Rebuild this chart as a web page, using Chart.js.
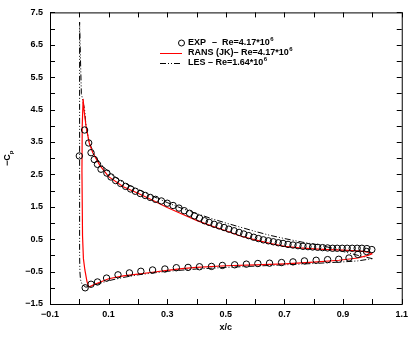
<!DOCTYPE html>
<html>
<head>
<meta charset="utf-8">
<script src="https://cdn.jsdelivr.net/npm/chart.js@4"></script>
<style>
  html, body { margin:0; padding:0; background:#fff; }
</style>
</head>
<body>
<canvas id="cp-chart" width="413" height="337"></canvas>
<script>
/* ===== DATA ===== */
const xTicks      = [-0.1, 0.1, 0.3, 0.5, 0.7, 0.9, 1.1];
const xMinorTicks = [-0.1, 0, 0.1, 0.2, 0.3, 0.4, 0.5, 0.6, 0.7, 0.8, 0.9, 1.0, 1.1];
const yTicks      = [-1.5, -0.5, 0.5, 1.5, 2.5, 3.5, 4.5, 5.5, 6.5, 7.5];
const yMinorTicks = [-1.5, -1, -0.5, 0, 0.5, 1, 1.5, 2, 2.5, 3, 3.5, 4, 4.5, 5, 5.5, 6, 6.5, 7, 7.5];

// experiment, suction side (first point is the one sitting on the leading edge)
const expUpperX  = [0.0, 0.018, 0.032, 0.04, 0.051, 0.062, 0.074, 0.094, 0.108, 0.124, 0.141, 0.158, 0.175, 0.191,
                    0.208, 0.225, 0.242, 0.26, 0.28, 0.30, 0.32, 0.34, 0.358, 0.376, 0.393, 0.41, 0.427, 0.443,
                    0.46, 0.477, 0.494, 0.51, 0.528, 0.545, 0.561, 0.578, 0.595, 0.611, 0.628, 0.645, 0.662,
                    0.679, 0.695, 0.712, 0.729, 0.746, 0.763, 0.78, 0.796, 0.813, 0.83, 0.847, 0.864, 0.88,
                    0.897, 0.914, 0.931, 0.948, 0.964, 0.981, 0.998];
const expUpperCp = [3.07, 3.87, 3.47, 3.17, 2.96, 2.81, 2.66, 2.54, 2.42, 2.31, 2.22, 2.13, 2.05, 1.98,
                    1.91, 1.85, 1.79, 1.73, 1.68, 1.61, 1.54, 1.46, 1.38, 1.30, 1.22, 1.15, 1.07, 1.02,
                    0.96, 0.91, 0.86, 0.81, 0.76, 0.71, 0.66, 0.61, 0.56, 0.52, 0.48, 0.45, 0.42,
                    0.39, 0.37, 0.34, 0.32, 0.30, 0.28, 0.27, 0.26, 0.25, 0.24, 0.23, 0.22, 0.22,
                    0.22, 0.22, 0.22, 0.22, 0.22, 0.21, 0.18];

// experiment, pressure side
const expLowerX  = [0.02, 0.04, 0.062, 0.093, 0.132, 0.171, 0.21, 0.25, 0.292, 0.331, 0.371, 0.41, 0.451, 0.488,
                    0.53, 0.57, 0.609, 0.649, 0.69, 0.729, 0.768, 0.808, 0.847, 0.885, 0.92, 0.95, 0.98];
const expLowerCp = [-1.0, -0.89, -0.82, -0.70, -0.60, -0.54, -0.49, -0.45, -0.42, -0.38, -0.37, -0.35, -0.34, -0.31,
                    -0.29, -0.27, -0.25, -0.24, -0.22, -0.20, -0.17, -0.15, -0.13, -0.12, -0.08, 0.03, 0.12];

// RANS (JK): trailing edge -> suction side -> leading edge -> pressure side -> trailing edge
const ransX  = [1.0, 0.985, 0.96, 0.93, 0.9, 0.85, 0.8, 0.75, 0.7, 0.65, 0.6, 0.55, 0.5, 0.45, 0.4, 0.35, 0.3,
                0.25, 0.2, 0.15, 0.1, 0.07, 0.046, 0.034, 0.023, 0.016, 0.013, 0.010, 0.009, 0.011, 0.014,
                0.019, 0.026, 0.031, 0.036, 0.05, 0.07, 0.1, 0.15, 0.2, 0.25, 0.3, 0.35, 0.4, 0.5, 0.6, 0.7,
                0.8, 0.886, 0.95, 0.985, 1.0];
const ransCp = [0.05, 0.10, 0.13, 0.15, 0.16, 0.18, 0.20, 0.23, 0.28, 0.37, 0.48, 0.60, 0.76, 0.91, 1.08, 1.28, 1.48,
                1.70, 1.92, 2.12, 2.43, 2.78, 3.17, 3.47, 3.98, 4.5, 4.83, 4.0, 2.6, 0.6, -0.1,
                -0.45, -0.8, -0.95, -0.97, -0.9, -0.83, -0.72, -0.63, -0.58, -0.52, -0.46, -0.41, -0.37, -0.32, -0.29, -0.26,
                -0.21, -0.15, -0.08, 0.0, 0.05];

// LES, same ordering
const lesX  = [1.0, 0.96, 0.9, 0.864, 0.82, 0.76, 0.7, 0.65, 0.6, 0.55, 0.5, 0.45, 0.4, 0.35, 0.3, 0.25, 0.2,
               0.15, 0.11, 0.08, 0.057, 0.034, 0.023, 0.018, 0.007, 0.004, 0.001, 0.001, 0.001, 0.002, 0.004,
               0.01, 0.022, 0.04, 0.07, 0.1, 0.15, 0.2, 0.3, 0.4, 0.5, 0.6, 0.7, 0.8, 0.9, 0.95, 1.0];
const lesCp = [-0.1, -0.02, 0.12, 0.22, 0.32, 0.41, 0.52, 0.62, 0.74, 0.87, 1.0, 1.14, 1.29, 1.45, 1.63, 1.83, 2.04,
               2.25, 2.5, 2.75, 3.02, 3.47, 3.98, 4.5, 5.0, 6.05, 7.2, 3.0, 0.0, -0.5, -0.75,
               -0.9, -0.98, -0.95, -0.86, -0.78, -0.68, -0.6, -0.49, -0.42, -0.37, -0.33, -0.29, -0.25, -0.2, -0.17, -0.1];

/* ===== STYLE ===== */
const TICK_FONT = { family: '"Liberation Sans", Arial, sans-serif', size: 9, weight: 'bold' };
const FONT_STR  = 'bold 9px "Liberation Sans", Arial, sans-serif';
const SUP_STR   = 'bold 6px "Liberation Sans", Arial, sans-serif';
const LES_DASH  = [6, 2, 1, 2, 1, 2];

const pts = (xs, ys) => xs.map((x, i) => ({ x, y: ys[i] }));
const fmtTick = v => Number(v).toFixed(1).replace('-', '\u2212');

/* ===== FRAME, TICKS, TITLES, LEGEND ===== */
function textWithSup(ctx, base, sup, x, y) {
  ctx.font = FONT_STR;
  ctx.fillText(base, x, y);
  const w = ctx.measureText(base).width;
  ctx.font = SUP_STR;
  ctx.fillText(sup, x + w + 0.5, y - 4);
  ctx.font = FONT_STR;
}

const framePlugin = {
  id: 'frame',
  afterDraw(chart) {
    const { ctx, chartArea: a, scales: { x, y } } = chart;
    ctx.save();
    ctx.strokeStyle = '#000';
    ctx.fillStyle = '#000';
    ctx.lineWidth = 1;
    ctx.setLineDash([]);
    ctx.strokeRect(a.left + 0.5, a.top + 0.5, a.right - a.left, a.bottom - a.top);

    const TL = 5;
    ctx.beginPath();
    xMinorTicks.forEach(v => {
      const px = Math.round(x.getPixelForValue(v)) + 0.5;
      ctx.moveTo(px, a.bottom); ctx.lineTo(px, a.bottom - TL);
      ctx.moveTo(px, a.top);    ctx.lineTo(px, a.top + TL);
    });
    yMinorTicks.forEach(v => {
      const py = Math.round(y.getPixelForValue(v)) + 0.5;
      ctx.moveTo(a.left, py);  ctx.lineTo(a.left + TL, py);
      ctx.moveTo(a.right, py); ctx.lineTo(a.right - TL, py);
    });
    ctx.stroke();

    // axis titles
    ctx.font = FONT_STR;
    ctx.textAlign = 'center';
    ctx.textBaseline = 'alphabetic';
    ctx.fillText('x/c', (a.left + a.right) / 2, 330);

    ctx.save();
    ctx.translate(10, 157);
    ctx.rotate(-Math.PI / 2);
    ctx.textAlign = 'left';
    ctx.fillText('\u2212C', -9, 0);
    const cw = ctx.measureText('\u2212C').width;
    ctx.font = SUP_STR;
    ctx.fillText('p', -9 + cw, 3);
    ctx.restore();

    // legend
    ctx.textAlign = 'left';
    ctx.textBaseline = 'middle';
    const lx = 188, rows = [43, 53, 63];

    ctx.beginPath();
    ctx.arc(181.5, rows[0], 3, 0, Math.PI * 2);
    ctx.stroke();
    ctx.font = FONT_STR;
    ctx.fillText('EXP', lx, rows[0]);
    textWithSup(ctx, '\u2013  Re=4.17*10', '6', 212, rows[0]);

    ctx.strokeStyle = '#ff0000';
    ctx.beginPath(); ctx.moveTo(160, rows[1] + 0.5); ctx.lineTo(182, rows[1] + 0.5); ctx.stroke();
    textWithSup(ctx, 'RANS (JK)\u2013 Re=4.17*10', '6', lx, rows[1]);

    ctx.strokeStyle = '#000';
    ctx.setLineDash(LES_DASH);
    ctx.beginPath(); ctx.moveTo(160, rows[2] + 0.5); ctx.lineTo(182, rows[2] + 0.5); ctx.stroke();
    ctx.setLineDash([]);
    textWithSup(ctx, 'LES \u2013 Re=1.64*10', '6', lx, rows[2]);

    ctx.restore();
  }
};

/* ===== CHART ===== */
new Chart(document.getElementById('cp-chart'), {
  type: 'scatter',
  data: {
    datasets: [
      {
        label: 'EXP upper', data: pts(expUpperX, expUpperCp),
        showLine: false, pointStyle: 'circle', pointRadius: 3.2,
        borderColor: '#000', backgroundColor: 'rgba(0,0,0,0)', borderWidth: 1
      },
      {
        label: 'EXP lower', data: pts(expLowerX, expLowerCp),
        showLine: false, pointStyle: 'circle', pointRadius: 3.2,
        borderColor: '#000', backgroundColor: 'rgba(0,0,0,0)', borderWidth: 1
      },
      {
        label: 'RANS (JK)', data: pts(ransX, ransCp),
        showLine: true, pointRadius: 0, borderColor: '#ff0000', borderWidth: 1.2, tension: 0
      },
      {
        label: 'LES', data: pts(lesX, lesCp),
        showLine: true, pointRadius: 0, borderColor: '#000', borderWidth: 1,
        borderDash: LES_DASH, tension: 0
      }
    ]
  },
  options: {
    responsive: false,
    animation: false,
    devicePixelRatio: 1,
    layout: { padding: { top: 7, right: 7, left: 0, bottom: 0 } },
    plugins: { legend: { display: false }, tooltip: { enabled: false } },
    scales: {
      x: {
        type: 'linear', min: -0.1, max: 1.1,
        afterBuildTicks: s => { s.ticks = xTicks.map(v => ({ value: v })); },
        afterFit: s => { s.height = 33; },
        grid: { display: false, drawTicks: false },
        border: { display: false },
        ticks: { font: TICK_FONT, color: '#000', padding: 5, maxRotation: 0, autoSkip: false, callback: fmtTick }
      },
      y: {
        type: 'linear', min: -1.5, max: 7.5,
        afterBuildTicks: s => { s.ticks = yTicks.map(v => ({ value: v })); },
        afterFit: s => { s.width = 50; },
        grid: { display: false, drawTicks: false },
        border: { display: false },
        ticks: { font: TICK_FONT, color: '#000', padding: 7, autoSkip: false, callback: fmtTick }
      }
    }
  },
  plugins: [framePlugin]
});
</script>
</body>
</html>
